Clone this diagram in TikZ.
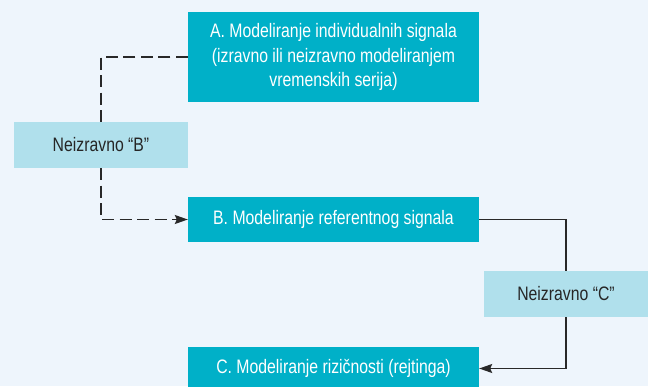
\documentclass[tikz,border=0pt]{standalone}
\usepackage{fontspec}
\setmainfont[FakeStretch=0.81]{Liberation Sans}
\usetikzlibrary{arrows.meta}
\definecolor{bgc}{RGB}{238,245,252}
\definecolor{teal}{RGB}{0,176,200}
\definecolor{lightb}{RGB}{176,224,236}
\definecolor{linec}{RGB}{40,40,40}
\begin{document}
\begin{tikzpicture}[x=1pt,y=-1pt,
  mainbox/.style={fill=teal, text=white, draw=none, inner sep=0pt, align=center, font=\fontsize{19.5}{24.5}\selectfont},
  sidebox/.style={fill=lightb, text=black!85, draw=none, inner sep=0pt, align=center, font=\fontsize{19.5}{24.5}\selectfont},
  conn/.style={draw=linec, line width=1.2pt},
  dconn/.style={conn, dash pattern=on 12pt off 5.5pt},
  tip/.style={-{Stealth[length=13pt,width=9pt,inset=2pt]}}
]
\fill[bgc] (0,0) rectangle (648,386);
\useasboundingbox (0,0) rectangle (648,386);
\node[mainbox, minimum width=291pt, minimum height=90pt] (A) at (333.5,57) {A. Modeliranje individualnih signala\\(izravno ili neizravno modeliranjem\\vremenskih serija)};
\node[sidebox, minimum width=174pt, minimum height=46pt] (NB) at (101,145) {Neizravno “B”};
\node[mainbox, minimum width=291pt, minimum height=45pt] (B) at (333.5,219.5) {B. Modeliranje referentnog signala};
\node[sidebox, minimum width=164pt, minimum height=46pt] (NC) at (566,294) {Neizravno “C”};
\node[mainbox, minimum width=291pt, minimum height=43pt] (C) at (333.5,368.5) {C. Modeliranje rizičnosti (rejtinga)};
\draw[dconn] (A.west) -| (NB.north);
\draw[dconn, tip] (NB.south) |- (B.west);
\draw[conn] (B.east) -| (NC.north);
\draw[conn, tip] (NC.south) |- (C.east);
\end{tikzpicture}
\end{document}
